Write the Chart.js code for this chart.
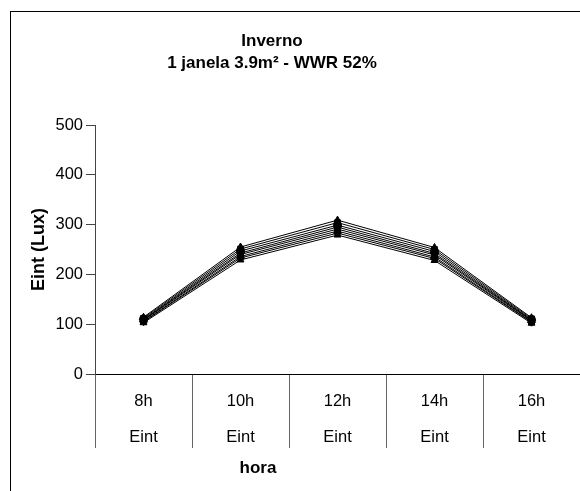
<!DOCTYPE html>
<html>
<head>
<meta charset="utf-8">
<script src="https://cdn.jsdelivr.net/npm/chart.js@4.4.1/dist/chart.umd.min.js"></script>
<style>
  html, body { margin: 0; padding: 0; background: #fff; overflow: hidden; }
  #wrap { position: relative; width: 580px; height: 491px; }
</style>
</head>
<body>
<div id="wrap"><canvas id="c" width="580" height="491"></canvas></div>
<script>
// ---- data ----
const categories = ['8h', '10h', '12h', '14h', '16h'];
const subLabel = 'Eint';
const titleLines = ['Inverno', '1 janela 3.9m² - WWR 52%'];
const yTitle = 'Eint (Lux)';
const xTitle = 'hora';
const yTicks = [0, 100, 200, 300, 400, 500];

const s1 = [103, 229, 279, 228, 102];
const s2 = [105, 233, 283, 232, 104];
const s3 = [106, 236, 287, 235, 105];
const s4 = [108, 240, 291, 239, 107];
const s5 = [109, 243, 295, 242, 108];
const s6 = [110, 247, 299, 246, 109];
const s7 = [112, 251, 304, 250, 111];
const s8 = [114, 255, 309, 254, 113];

const seriesList = [s1, s2, s3, s4, s5, s6, s7, s8];
const markerStyles = ['triangle', 'rectRot', 'rect', 'triangle', 'rectRot', 'circle', 'rect', 'triangle'];

const FONT = "'Liberation Sans', Arial, sans-serif";

const frame = {
  id: 'frame',
  beforeDraw(chart) {
    const ctx = chart.ctx;
    ctx.save();
    ctx.fillStyle = '#fff';
    ctx.fillRect(0, 0, chart.width, chart.height);
    ctx.strokeStyle = '#000';
    ctx.lineWidth = 1;
    ctx.strokeRect(10.5, 11.5, 800, 800);
    ctx.restore();
  },
  afterLayout(chart) {
    const t = chart.titleBlock;
    if (t) { t.left = 10; t.right = 534; }
    const sub = chart.boxes.find(b => b !== t && b.options && b.options.text === xTitle);
    if (sub) { sub.left = 0; sub.right = 516; }
  }
};

new Chart(document.getElementById('c'), {
  type: 'line',
  data: {
    labels: categories.map(c => [c, subLabel]),
    datasets: seriesList.map((s, i) => ({
      label: 'Série ' + (i + 1),
      data: s,
      borderColor: '#000',
      backgroundColor: '#000',
      borderWidth: 1,
      pointStyle: markerStyles[i],
      pointRadius: 4,
      pointBackgroundColor: '#000',
      pointBorderColor: '#000',
      tension: 0,
      fill: false
    }))
  },
  options: {
    responsive: false,
    animation: false,
    devicePixelRatio: 1,
    layout: { autoPadding: false, padding: { left: 0, right: 0, top: 0, bottom: 0 } },
    plugins: {
      legend: { display: false },
      tooltip: { enabled: false },
      title: {
        display: true,
        text: titleLines,
        color: '#000',
        font: { family: FONT, size: 17, weight: 'bold', lineHeight: 1.3 },
        padding: { top: 30, bottom: 50.8 }
      },
      subtitle: {
        display: true,
        position: 'bottom',
        text: xTitle,
        color: '#000',
        font: { family: FONT, size: 17, weight: 'bold', lineHeight: 1.2 },
        padding: { top: 4, bottom: 12 }
      }
    },
    scales: {
      x: {
        type: 'category',
        offset: true,
        grid: {
          offset: true,
          drawOnChartArea: false,
          drawTicks: true,
          tickLength: 74,
          color: '#666',
          lineWidth: 1
        },
        border: { display: true, color: '#000', width: 1 },
        ticks: {
          color: '#000',
          font: { family: FONT, size: 16.5, lineHeight: 2.16 },
          padding: -64.15,
          maxRotation: 0,
          autoSkip: false
        },
        afterFit(scale) { scale.height = 80.6; }
      },
      y: {
        min: 0,
        max: 500,
        afterBuildTicks(scale) { scale.ticks = yTicks.map(v => ({ value: v })); },
        grid: {
          drawOnChartArea: false,
          drawTicks: true,
          tickLength: 9,
          color: '#444'
        },
        border: { display: true, color: '#444', width: 1 },
        ticks: {
          color: '#000',
          font: { family: FONT, size: 16.5 },
          padding: 3
        },
        title: {
          display: true,
          text: yTitle,
          color: '#000',
          font: { family: FONT, size: 18, weight: 'bold', lineHeight: 1.2 },
          padding: { top: 28.2, bottom: 0 }
        },
        afterFit(scale) { scale.width = 95; }
      }
    }
  },
  plugins: [frame]
});
</script>
</body>
</html>
